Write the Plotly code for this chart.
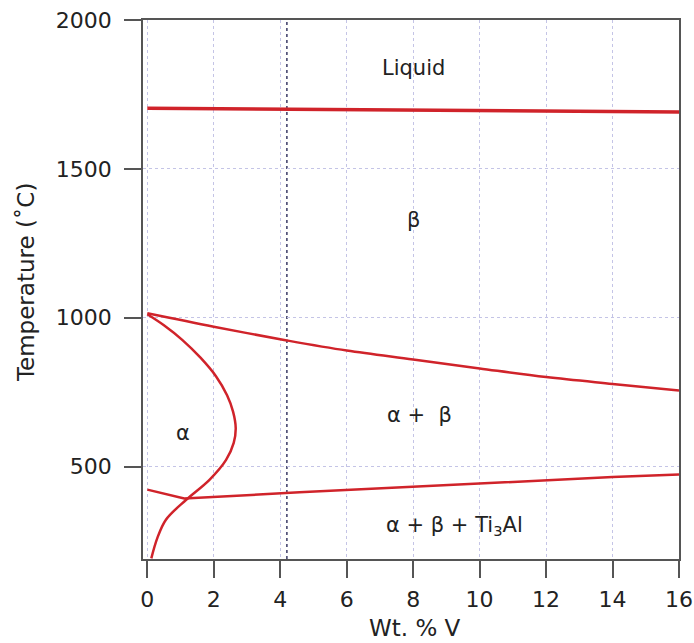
import plotly.graph_objects as go

# ---- data ----
liquidus_x = [0, 4, 8, 12, 16]
liquidus_T = [1704, 1701, 1698, 1694, 1691]

beta_transus_x = [0, 2, 4.2, 6, 8, 10, 12, 14, 16]
beta_transus_T = [1015, 970, 924, 890, 860, 830, 801, 778, 756]

alpha_solvus_x = [0, 0.5, 1.05, 1.6, 2.07, 2.4, 2.58, 2.66, 2.6, 2.37, 1.87, 1.17, 0.56, 0.3, 0.12]
alpha_solvus_T = [1012, 975, 926, 866, 803, 740, 685, 630, 580, 523, 456, 389, 322, 260, 192]

ti3al_x = [0, 1.11, 4.58, 10, 12, 14, 16]
ti3al_T = [423, 393, 414, 444, 454, 465, 474]

alloy_V = 4.2

phase_labels = ["Liquid", "β", "α +  β", "α", "α + β + Ti<sub>3</sub>Al"]
phase_label_x = [8.0, 8.0, 8.2, 1.07, 9.25]
phase_label_T = [1840, 1330, 675, 614, 300]

x_ticks = [0, 2, 4, 6, 8, 10, 12, 14, 16]
y_ticks = [500, 1000, 1500, 2000]

x_title = "Wt. % V"
y_title = "Temperature (˚C)"

RED = "#d0232a"
FONT = "DejaVu Sans"
TXT = "#222222"

fig = go.Figure()
fig.add_trace(go.Scatter(x=liquidus_x, y=liquidus_T, mode="lines",
                         line=dict(color=RED, width=3.5), hoverinfo="skip"))
fig.add_trace(go.Scatter(x=beta_transus_x, y=beta_transus_T, mode="lines",
                         line=dict(color=RED, width=2.5, shape="spline"), hoverinfo="skip"))
fig.add_trace(go.Scatter(x=alpha_solvus_x, y=alpha_solvus_T, mode="lines",
                         line=dict(color=RED, width=2.5, shape="spline"), hoverinfo="skip"))
fig.add_trace(go.Scatter(x=ti3al_x, y=ti3al_T, mode="lines",
                         line=dict(color=RED, width=2.5), hoverinfo="skip"))

fig.add_vline(x=alloy_V, line=dict(color="#3a3a66", width=1.5, dash="dot"), layer="below")

for txt, lx, ly in zip(phase_labels, phase_label_x, phase_label_T):
    fig.add_annotation(x=lx, y=ly, text=txt, showarrow=False,
                       font=dict(family=FONT, size=21, color=TXT))

# axis titles as paper-anchored annotations
fig.add_annotation(xref="paper", yref="paper", x=0.507, y=-0.128, text=x_title,
                   showarrow=False, xanchor="center", yanchor="middle",
                   font=dict(family=FONT, size=23, color=TXT))
fig.add_annotation(xref="paper", yref="paper", x=-0.218, y=0.514, text=y_title,
                   showarrow=False, xanchor="center", yanchor="middle", textangle=-90,
                   font=dict(family=FONT, size=23, color=TXT))

axis_common = dict(
    showline=True, linecolor="#555555", linewidth=1.5, mirror=True,
    ticks="outside", ticklen=17, tickwidth=1.5, tickcolor="#555555",
    showgrid=True, gridcolor="#c4c4e6", gridwidth=1, griddash="dot",
    zeroline=False, automargin=False, ticklabeloverflow="allow",
    tickfont=dict(family=FONT, size=22, color=TXT),
)

fig.update_xaxes(range=[-0.13, 16], tickvals=x_ticks, ticklabelstandoff=3, **axis_common)
fig.update_yaxes(range=[190, 2000], tickvals=y_ticks, ticklabelstandoff=8, **axis_common)

fig.update_layout(
    width=694, height=643,
    margin=dict(l=143, r=15, t=20, b=84),
    plot_bgcolor="white", paper_bgcolor="white",
    showlegend=False,
)

fig.write_html("out.html", config={"displayModeBar": False},
               post_script="document.body.style.margin='0';")
